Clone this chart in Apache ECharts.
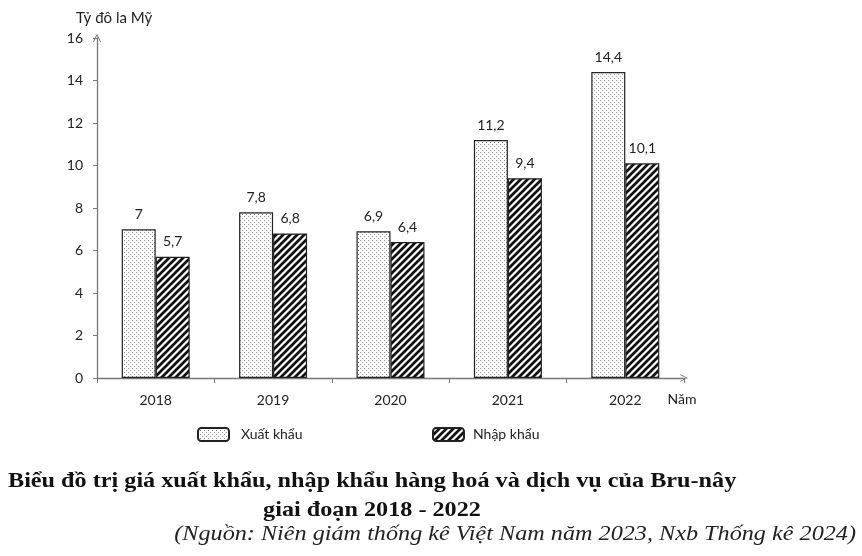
<!DOCTYPE html>
<html>
<head>
<meta charset="utf-8">
<script src="https://cdn.jsdelivr.net/npm/echarts@6/dist/echarts.min.js"></script>
<style>
html,body{margin:0;padding:0;background:#fff;}
#c{width:862px;height:556px;}
</style>
</head>
<body>
<div id="c"></div>
<script>
var years = ['2018', '2019', '2020', '2021', '2022'];
var exportValues = [7, 7.8, 6.9, 11.2, 14.4];
var importValues = [5.7, 6.8, 6.4, 9.4, 10.1];
var yTicks = [0, 2, 4, 6, 8, 10, 12, 14, 16];

function dotPattern() {
  var c = document.createElement('canvas');
  c.width = 4; c.height = 4;
  var g = c.getContext('2d');
  g.fillStyle = '#ffffff'; g.fillRect(0, 0, 4, 4);
  g.fillStyle = '#8a8a8a';
  g.fillRect(0, 0, 1, 1);
  g.fillRect(2, 2, 1, 1);
  return c;
}
function hatchPattern() {
  var s = 7;
  var c = document.createElement('canvas');
  c.width = s; c.height = s;
  var g = c.getContext('2d');
  g.fillStyle = '#ffffff'; g.fillRect(0, 0, s, s);
  g.strokeStyle = '#111111'; g.lineWidth = 2.7;
  g.beginPath();
  g.moveTo(-s, s * 2); g.lineTo(s * 2, -s);
  g.moveTo(-s, s); g.lineTo(s, -s);
  g.moveTo(0, s * 2); g.lineTo(s * 2, 0);
  g.stroke();
  return c;
}
var fmt = function (p) { return String(p.value).replace('.', ','); };
var chevron = 'path://M0,10 L5,0 L10,10 L9,10.6 L5,2.4 L1,10.6 Z';

var titleLine1 = 'Biểu đồ trị giá xuất khẩu, nhập khẩu hàng hoá và dịch vụ của Bru-nây';
var titleLine2 = 'giai đoạn 2018 - 2022';
var sourceText = '(Nguồn: Niên giám thống kê Việt Nam năm 2023, Nxb Thống kê 2024)';

var chart = echarts.init(document.getElementById('c'));
chart.setOption({
  animation: false,
  backgroundColor: '#fff',
  textStyle: { fontFamily: 'Lato, "Open Sans", sans-serif' },
  graphic: [
    {
      type: 'text', x: 8, y: 481, scaleX: 1.1,
      style: { text: titleLine1, x: 0, y: 0, textAlign: 'left', textVerticalAlign: 'middle',
        font: 'bold 22px "Liberation Serif", serif', fill: '#111' }
    },
    {
      type: 'text', x: 372, y: 510, scaleX: 1.1,
      style: { text: titleLine2, x: 0, y: 0, textAlign: 'center', textVerticalAlign: 'middle',
        font: 'bold 22px "Liberation Serif", serif', fill: '#111' }
    },
    {
      type: 'text', x: 856, y: 534, scaleX: 1.1,
      style: { text: sourceText, x: 0, y: 0, textAlign: 'right', textVerticalAlign: 'middle',
        font: 'italic 22px "Liberation Serif", serif', fill: '#222' }
    }
  ],
  legend: [
    {
      data: ['Xuất khẩu'], left: 197, top: 427, padding: 0, itemWidth: 31, itemHeight: 13,
      textStyle: { fontSize: 14, color: '#222', padding: [0, 0, 0, 7] }
    },
    {
      data: ['Nhập khẩu'], left: 432, top: 427, padding: 0, itemWidth: 31, itemHeight: 13,
      textStyle: { fontSize: 14, color: '#222', padding: [0, 0, 0, 4] }
    }
  ],
  grid: { left: 97, top: 38, width: 587, bottom: 178 },
  xAxis: {
    type: 'category',
    data: years,
    name: 'Năm',
    nameLocation: 'end',
    nameGap: -2,
    nameTextStyle: { fontSize: 14, color: '#222', align: 'center', verticalAlign: 'top', padding: [14, 0, 0, 0] },
    axisLine: { lineStyle: { color: '#777', width: 1.3 }, symbol: ['none', chevron], symbolSize: [11, 8] },
    axisTick: { show: true, alignWithLabel: false, length: 5, lineStyle: { color: '#777' } },
    axisLabel: { fontSize: 14, color: '#222', margin: 15 }
  },
  yAxis: {
    type: 'value',
    min: 0, max: 16, interval: 2,
    name: 'Tỷ đô la Mỹ',
    nameLocation: 'end',
    nameGap: 12,
    nameTextStyle: { fontSize: 15, color: '#222', align: 'left', padding: [0, 0, 0, -21] },
    axisLine: { show: true, lineStyle: { color: '#777', width: 1.3 }, symbol: ['none', chevron], symbolSize: [8, 11] },
    axisTick: { show: true, length: 4, lineStyle: { color: '#777' } },
    splitLine: { show: false },
    axisLabel: {
      fontSize: 14, color: '#222', margin: 14,
      formatter: function (v) { return yTicks.indexOf(v) >= 0 ? String(v) : ''; }
    }
  },
  series: [
    {
      name: 'Xuất khẩu',
      type: 'bar',
      data: exportValues,
      barWidth: 34,
      barGap: '0%',
      itemStyle: { color: { image: dotPattern(), repeat: 'repeat' }, borderColor: '#222', borderWidth: 1.2 },
      label: { show: true, position: 'top', distance: 8, fontSize: 14, color: '#222', formatter: fmt }
    },
    {
      name: 'Nhập khẩu',
      type: 'bar',
      data: importValues,
      barWidth: 34,
      itemStyle: { color: { image: hatchPattern(), repeat: 'repeat' }, borderColor: '#222', borderWidth: 1.2 },
      label: { show: true, position: 'top', distance: 8, fontSize: 14, color: '#222', formatter: fmt }
    }
  ]
});
</script>
</body>
</html>
